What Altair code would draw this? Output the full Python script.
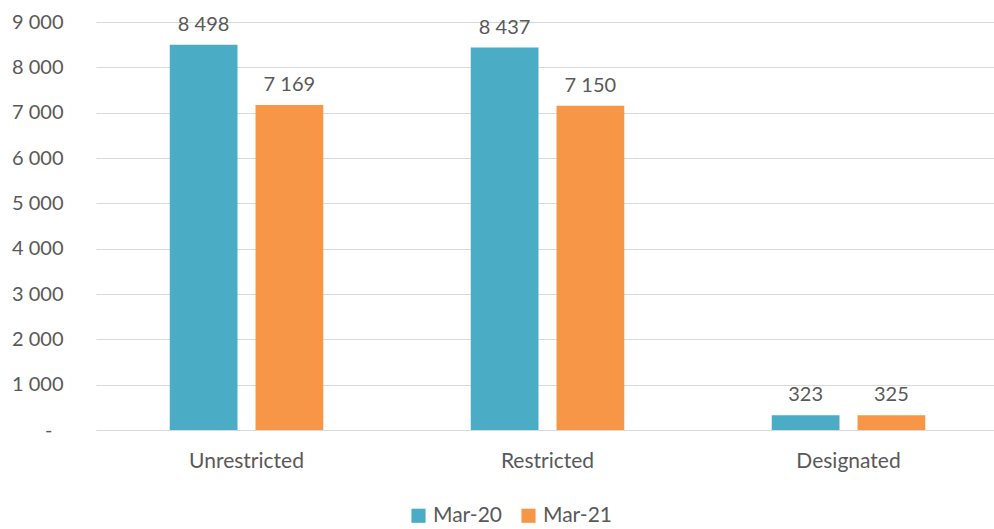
import altair as alt
import pandas as pd

categories = ["Unrestricted", "Restricted", "Designated"]
series = ["Mar-20", "Mar-21"]
mar20 = [8498, 8437, 323]
mar21 = [7169, 7150, 325]
colors = ["#4BACC6", "#F79646"]

rows = []
for c, a, b in zip(categories, mar20, mar21):
    rows.append({"cat": c, "series": series[0], "value": a})
    rows.append({"cat": c, "series": series[1], "value": b})
df = pd.DataFrame(rows)

FONT = "Lato"
TXT = "#595959"

label_expr = "datum.value == 0 ? '-' : replace(format(datum.value, ','), ',', ' ')"

base = alt.Chart(df).encode(
    x=alt.X("cat:N", sort=categories,
            scale=alt.Scale(paddingInner=0.49, paddingOuter=0.245, range=[0, 903]),
            axis=alt.Axis(title=None, labelAngle=0, ticks=False, domain=True,
                          domainColor="#d9d9d9", labelPadding=20,
                          labelFont=FONT, labelFontSize=21, labelColor=TXT)),
    xOffset=alt.XOffset("series:N", sort=series,
                        scale=alt.Scale(paddingInner=0.21, paddingOuter=0)),
)

bars = base.mark_bar().encode(
    y=alt.Y("value:Q", scale=alt.Scale(domain=[0, 9000]),
            axis=alt.Axis(title=None, values=list(range(0, 10000, 1000)),
                          domain=False, ticks=False,
                          labelPadding={"condition": {"test": "datum.value == 0", "value": 44},
                                        "value": 33},
                          labelExpr=label_expr, gridColor="#d9d9d9",
                          labelFont=FONT, labelFontSize=20, labelColor=TXT)),
    color=alt.Color("series:N", sort=series,
                    scale=alt.Scale(domain=series, range=colors),
                    legend=alt.Legend(title=None, orient="none", direction="horizontal",
                                      legendX=312, legendY=483,
                                      symbolType="square", symbolSize=200,
                                      symbolStrokeWidth=0, labelFont=FONT,
                                      labelFontSize=21, labelColor=TXT,
                                      columnPadding=16)),
)

labels = base.mark_text(baseline="bottom", dy=-10, font=FONT, fontSize=20, color=TXT).encode(
    y=alt.Y("value:Q"),
    text=alt.Text("label:N"),
).transform_calculate(label="replace(format(datum.value, ','), ',', ' ')")

chart = (bars + labels).properties(
    width=898, height=408,
    autosize=alt.AutoSizeParams(type="none"),
    padding={"left": 96, "top": 22, "right": 0, "bottom": 99},
).configure_view(stroke=None)

chart.save("out.html", embed_options={"renderer": "svg", "actions": False})
